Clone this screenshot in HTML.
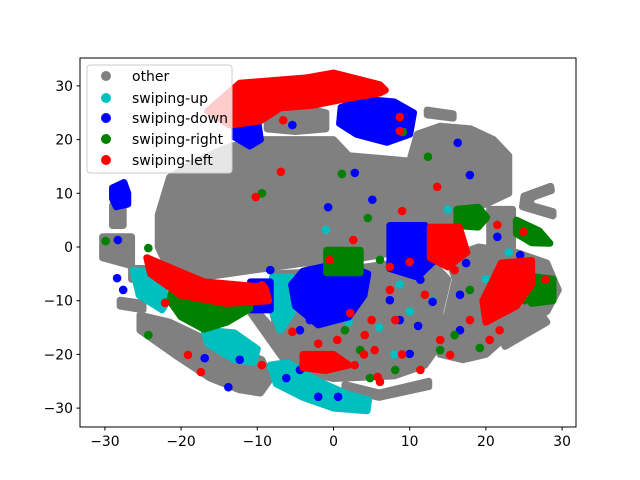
<!DOCTYPE html>
<html><head><meta charset="utf-8"><style>
body{margin:0;background:#fff}
svg{display:block;font-family:"DejaVu Sans","Liberation Sans",sans-serif}
</style></head><body>
<svg id="chart" width="640" height="480">
<g id="marks"></g>
<rect x="80" y="58" width="496" height="369" fill="none" stroke="#000" stroke-width="1"/>
<g id="axes"></g>
<g>
<rect x="87" y="65" width="145" height="108" rx="3" fill="#fff" fill-opacity="0.8" stroke="#ccc"/>
<g><circle cx="106" cy="76" r="5" fill="#808080"/><text x="132" y="81" font-size="14">other</text></g>
<g><circle cx="106" cy="98" r="5" fill="#00bfbf"/><text x="132" y="103" font-size="14">swiping-up</text></g>
<g><circle cx="106" cy="118" r="5" fill="#0000ff"/><text x="132" y="123" font-size="14">swiping-down</text></g>
<g><circle cx="106" cy="139" r="5" fill="#008000"/><text x="132" y="144" font-size="14">swiping-right</text></g>
<g><circle cx="106" cy="160" r="5" fill="#ff0000"/><text x="132" y="165" font-size="14">swiping-left</text></g>
</g>
</svg>
<script>
const xTicks=[-30,-20,-10,0,10,20,30];
const yTicks=[-30,-20,-10,0,10,20,30];
const otherBlobs=[
[[-23,0],[-23,6],[-21.5,13],[-18,16],[-14,18.5],[-10,20],[-6,20],[0,20],[2,17],[6,16.5],[10,16],[11,21],[14,22.5],[18,22],[21,20],[23,17],[23,10],[20,8],[17,7],[16,4],[16,0],[14,-1],[8,-1],[4,-2],[0,-3],[-4,-3],[-9,-4],[-14,-5],[-19,-6],[-22,-3]],
[[-8.7,25],[-4,26],[-1,25],[-1,22],[-5,21.5],[-8.7,22]],
[[20.5,7],[23.5,7],[23.5,0],[20.5,0]],
[[28.5,11.3],[25,9.5],[24.8,7.5],[28.8,5.8],[28.8,6.6],[25.8,7.8],[26,9.2],[28.6,10.5]],
[[12.3,25.5],[15.7,24.8],[15.7,24],[12.3,24.6]],
[[-29,7.8],[-27.6,7.8],[-27.6,4],[-29,4]],
[[-7.9,-5],[0,-4.5],[8,-3],[13,-3],[15,-6],[14,-12],[14,-18],[12,-22],[8,-24],[0,-24.5],[-5,-23],[-7,-18],[-8,-12]],
[[15,-2],[19,0],[24,-1],[28,-3],[29.5,-8],[28,-12],[24,-15],[20,-20],[17,-21],[14,-20],[15,-12],[16,-6]],
[[22,-16],[27.5,-13],[28,-14],[22.5,-18.5]],
[[-25.4,-12.7],[-21.5,-14],[-15.6,-18],[-12.3,-21],[-10.3,-20.5],[-9.4,-21],[-8.3,-24.6],[-9.6,-27.2],[-12.3,-26.6],[-16.2,-24.4],[-20.8,-20.1],[-25.4,-15.5]],
[[-28,-9.9],[-25,-10.5],[-25,-11.7],[-28,-11]],
[[-11,-12],[-10,-12],[-5,-20],[-5.5,-21.5],[-6.5,-21]],
[[1.5,-25.6],[6,-27.2],[12.5,-25],[12.5,-26],[6,-28],[1.5,-26.6]],
[[-30.3,1.9],[-26.5,1.9],[-26.5,-3.5],[-30.3,-2]],
[[-26.5,-4],[-22,-4],[-22,-6],[-26.5,-6]]
];
const upBlobs=[
[[-26.3,-4.3],[-23,-5],[-21.8,-10],[-22.5,-11.7],[-25.5,-9]],
[[-17,-15.5],[-13,-16],[-10,-19],[-10.5,-21.5],[-13,-21],[-16.5,-18]],
[[-8.3,-22],[-6,-21.5],[-2,-25],[2,-27.5],[4.6,-28.5],[4.4,-30.5],[0,-30],[-4,-28],[-7.5,-25.5]],
[[-8,-5.6],[-5.5,-5.6],[-5.3,-12],[-7,-15.5],[-8,-12]]
];
const upPoints=[[-1,3.2],[15,7],[8.7,-7],[16,0],[13,-10],[2,-14],[10,-12],[20,-6],[6,-15],[-3,-10],[11,-2],[23,-1],[3,-22],[8,-20]];
const downBlobs=[
[[1,26],[4,27.5],[8,27],[10.5,25],[10,21],[7,19.5],[3,21],[0.8,23]],
[[-13,23.5],[-10,24],[-9.6,20],[-11,18.8],[-13,20.5]],
[[-29,11],[-27.5,12],[-27,10],[-27,8],[-28.5,7.5],[-29,9]],
[[-4,-4.5],[1,-3],[4.5,-5],[4,-9],[2,-13],[-2,-14.5],[-5,-11],[-5.5,-7]],
[[-10.9,-6.5],[-8.3,-6.5],[-8.3,-11.7],[-10.9,-11.7]],
[[7.4,4],[12,4],[13.6,-2],[11,-5.6],[7.4,-4]]
];
const downPoints=[[-5.4,22.7],[-0.7,7.4],[2.8,13.8],[7.2,21.2],[16.3,19.4],[17.9,13.4],[5.1,8.8],[9.5,1.3],[17.4,-3],[21.5,1.9],[22.5,-3.9],[24.5,-1.5],[-12.3,-21],[-16.9,-20.7],[-13.8,-26.1],[-4.4,-22.9],[-2,-27.9],[0.6,-27.9],[10,-19.9],[11.1,-14.7],[16.6,-8.9],[-3.1,-13.6],[2.2,-8.9],[-4.4,-15.5],[-8.3,-4.3],[-12.3,-8],[-28.3,1.3],[-28.4,-5.8],[-27.6,-8],[8.7,-13.6],[11.4,-6.1],[19,4.1],[8.1,-2.8],[7.4,-9.9],[16.6,-15.5],[13,-10.2],[-6.2,-24.4]];
const rightBlobs=[
[[-21,-7],[-14,-8],[-11,-9],[-11,-11.5],[-14,-14],[-17,-15.3],[-20,-13],[-21.5,-10]],
[[16.2,7],[19,7.4],[20.1,5.5],[19,3.7],[16.2,4]],
[[24,5],[27,3],[28.4,0.7],[26,0.8],[24,2.5]],
[[-0.9,-0.6],[3.5,-0.6],[3.5,-4.8],[-0.9,-4.8]],
[[26,-5.5],[28.8,-6],[28.8,-10],[26,-10.5]]
];
const rightPoints=[[-9.4,10],[1.1,13.6],[4.5,5.4],[12.4,16.8],[9.1,21.4],[-29.9,1.1],[-24.3,-16.4],[-24.3,-0.2],[6.1,-2.4],[17.9,-8],[15.9,-16.4],[19.2,-18.8],[27.1,-8],[1.5,-15.5],[3.5,-19.2],[8.1,-22.9],[4.8,-24.4],[14,-19.2],[25.1,-9.9],[22.5,-11.7]];
const leftBlobs=[
[[-16.5,25.3],[-12.3,30.5],[-3.5,31.5],[0,32.4],[6.1,30.2],[6.8,29.2],[6.1,28.7],[0.9,27.4],[-2.7,26.4],[-7,25.9],[-9.6,23.5],[-13.6,22.7]],
[[-24.5,-2],[-22,-3.5],[-17,-6.5],[-9,-7.5],[-8.5,-10],[-14,-10.5],[-20,-9],[-24,-5]],
[[12.7,3.7],[16.5,3.7],[17.5,-1],[15,-3.7],[12.7,-2]],
[[22,-3],[26,-2.5],[26,-7],[24,-11],[20,-14],[19.6,-10],[21,-6]],
[[-4,-20],[0,-20],[2,-22],[-1,-23],[-4,-22.5]]
];
const leftPoints=[[-6.6,23.6],[-6.9,14],[-10.2,9.3],[8.7,24.2],[8.7,21.6],[9,6.7],[13.6,11.2],[2.6,1.3],[-0.5,-2.4],[2.2,-12.3],[7.4,-8],[5,-13.6],[5.4,-19.2],[6.1,-25.1],[11.4,-22.9],[15.3,-20.1],[20.5,-17.3],[21.5,4.1],[24.9,2.8],[-9.4,-7.1],[-9.4,-22],[-17.4,-23.3],[-19.1,-20.1],[-22.1,-10.4],[-5.4,-15.8],[-3.1,-20.1],[0.5,-17.3],[4.1,-16.4],[8.1,-13.6],[14,-17.3],[21.8,-15.5],[17.9,-13.6],[23.8,-9.9],[27.8,-6.1],[15.9,-4.3],[5.8,-24.2],[-1.5,-21.4],[2.8,-22],[10,-2.8],[12,-8.9],[7.4,-3.7],[-2,-18],[4,-20],[9,-20]];

const sx=v=>333.5+v*7.62, sy=v=>247-v*5.37;
const NS='http://www.w3.org/2000/svg';
const marks=document.getElementById('marks');
function blobs(list,color,name){
  list.forEach((poly,i)=>{
    const p=document.createElementNS(NS,'polygon');
    p.setAttribute('points',poly.map(q=>sx(q[0])+','+sy(q[1])).join(' '));
    p.setAttribute('fill',color);p.setAttribute('stroke',color);
    p.setAttribute('stroke-width','7');p.setAttribute('stroke-linejoin','round');
    
    
    marks.appendChild(p);
  });
}
function pts(list,color,name){
  list.forEach((q,i)=>{
    const c=document.createElementNS(NS,'circle');
    c.setAttribute('cx',sx(q[0]));c.setAttribute('cy',sy(q[1]));c.setAttribute('r','4.3');
    c.setAttribute('fill',color);
    
    
    marks.appendChild(c);
  });
}
blobs(otherBlobs,'#808080','other');
blobs(upBlobs,'#00bfbf','swiping-up');pts(upPoints,'#00bfbf','swiping-up');
blobs(downBlobs,'#0000ff','swiping-down');pts(downPoints,'#0000ff','swiping-down');
blobs(rightBlobs,'#008000','swiping-right');pts(rightPoints,'#008000','swiping-right');
blobs(leftBlobs,'#ff0000','swiping-left');pts(leftPoints,'#ff0000','swiping-left');

const axes=document.getElementById('axes');
const fmt=v=>v<0?'\u2212'+(-v):''+v;
xTicks.forEach(v=>{
  const l=document.createElementNS(NS,'line');
  l.setAttribute('x1',sx(v));l.setAttribute('x2',sx(v));l.setAttribute('y1',427);l.setAttribute('y2',430.5);l.setAttribute('stroke','#000');
  
  
  axes.appendChild(l);
  const t=document.createElementNS(NS,'text');
  t.setAttribute('x',sx(v));t.setAttribute('y',446);t.setAttribute('text-anchor','middle');t.setAttribute('font-size','13.9');
  t.textContent=fmt(v);
  
  
  axes.appendChild(t);
});
yTicks.forEach(v=>{
  const l=document.createElementNS(NS,'line');
  l.setAttribute('x1',76.5);l.setAttribute('x2',80);l.setAttribute('y1',sy(v));l.setAttribute('y2',sy(v));l.setAttribute('stroke','#000');
  
  
  axes.appendChild(l);
  const t=document.createElementNS(NS,'text');
  t.setAttribute('x',73);t.setAttribute('y',sy(v)+5);t.setAttribute('text-anchor','end');t.setAttribute('font-size','13.9');
  t.textContent=fmt(v);
  
  
  axes.appendChild(t);
});
</script>
</body></html>
